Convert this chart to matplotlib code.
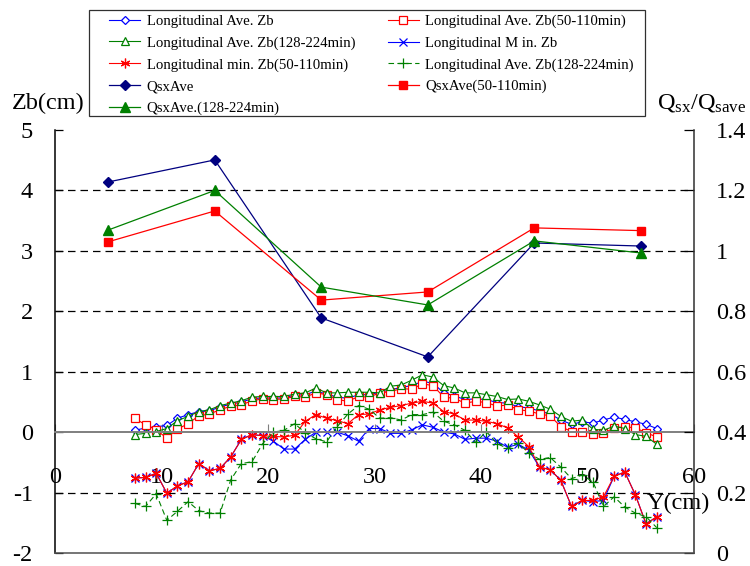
import numpy as np
import matplotlib
matplotlib.use("Agg")
import matplotlib.pyplot as plt
from matplotlib.patches import Rectangle
from matplotlib.ticker import FuncFormatter

plt.rcParams['font.family'] = ['Liberation Serif', 'DejaVu Serif']
plt.rcParams['mathtext.fontset'] = 'custom'
plt.rcParams['mathtext.rm'] = 'Liberation Serif'
plt.rcParams['mathtext.it'] = 'Liberation Serif:italic'
plt.rcParams['axes.unicode_minus'] = False

# Transverse positions Y (cm) of the bed-level profiles
y_pos = [7.5, 8.5, 9.5, 10.5, 11.5, 12.5, 13.5, 14.5, 15.5, 16.5,
         17.5, 18.5, 19.5, 20.5, 21.5, 22.5, 23.5, 24.5, 25.5, 26.5,
         27.5, 28.5, 29.5, 30.5, 31.5, 32.5, 33.5, 34.5, 35.5, 36.5,
         37.5, 38.5, 39.5, 40.5, 41.5, 42.5, 43.5, 44.5, 45.5, 46.5,
         47.5, 48.5, 49.5, 50.5, 51.5, 52.5, 53.5, 54.5, 55.5, 56.5]

ave_zb = [0.03, 0.07, 0.09, 0.11, 0.23, 0.29, 0.34, 0.35, 0.42, 0.46,
          0.50, 0.55, 0.57, 0.56, 0.57, 0.61, 0.62, 0.68, 0.63, 0.58,
          0.56, 0.62, 0.62, 0.66, 0.70, 0.74, 0.77, 0.84, 0.81, 0.65,
          0.60, 0.54, 0.55, 0.54, 0.49, 0.48, 0.42, 0.40, 0.35, 0.30,
          0.20, 0.13, 0.17, 0.15, 0.20, 0.25, 0.21, 0.17, 0.13, 0.06]

ave_zb_50_110 = [0.23, 0.12, 0.04, -0.10, 0.05, 0.14, 0.27, 0.30, 0.37, 0.43,
                 0.45, 0.52, 0.55, 0.54, 0.55, 0.59, 0.58, 0.65, 0.62, 0.54,
                 0.51, 0.59, 0.58, 0.65, 0.67, 0.72, 0.71, 0.80, 0.77, 0.58,
                 0.56, 0.48, 0.51, 0.49, 0.43, 0.45, 0.37, 0.35, 0.30, 0.27,
                 0.09, 0.01, 0.01, -0.03, -0.02, 0.07, 0.09, 0.07, -0.01, -0.08]

ave_zb_128_224 = [-0.04, -0.02, 0.01, 0.06, 0.19, 0.26, 0.34, 0.37, 0.44, 0.48,
                  0.52, 0.58, 0.59, 0.59, 0.59, 0.63, 0.65, 0.73, 0.65, 0.65,
                  0.66, 0.66, 0.66, 0.65, 0.76, 0.78, 0.86, 0.95, 0.91, 0.77,
                  0.73, 0.65, 0.65, 0.62, 0.59, 0.54, 0.55, 0.51, 0.45, 0.38,
                  0.26, 0.18, 0.20, 0.05, 0.03, 0.10, 0.06, -0.04, -0.07, -0.20]

min_zb = [-0.76, -0.75, -0.68, -1.01, -0.89, -0.82, -0.52, -0.64, -0.60, -0.41,
          -0.12, -0.04, -0.06, -0.15, -0.28, -0.28, -0.12, 0.00, 0.00, 0.00,
          -0.06, -0.15, 0.06, 0.06, -0.02, -0.02, 0.04, 0.12, 0.08, 0.00,
          -0.03, -0.12, -0.10, -0.10, -0.15, -0.25, -0.20, -0.30, -0.58, -0.62,
          -0.80, -1.23, -1.13, -1.15, -1.13, -0.73, -0.66, -1.04, -1.52, -1.40]

min_zb_50_110 = [-0.76, -0.75, -0.68, -1.01, -0.89, -0.82, -0.52, -0.64, -0.60, -0.41,
                 -0.12, -0.04, -0.06, -0.07, -0.08, -0.05, 0.18, 0.29, 0.23, 0.19,
                 0.14, 0.29, 0.30, 0.37, 0.41, 0.44, 0.48, 0.51, 0.48, 0.34,
                 0.30, 0.20, 0.20, 0.18, 0.14, 0.07, -0.08, -0.24, -0.58, -0.62,
                 -0.80, -1.23, -1.13, -1.13, -1.07, -0.73, -0.66, -1.04, -1.52, -1.40]

min_zb_128_224 = [-1.18, -1.23, -1.02, -1.46, -1.31, -1.15, -1.30, -1.34, -1.34, -0.79,
                  -0.52, -0.49, -0.19, 0.00, 0.03, 0.14, -0.01, -0.11, -0.16, 0.09,
                  0.30, 0.44, 0.38, 0.23, 0.24, 0.20, 0.29, 0.29, 0.33, 0.18,
                  0.12, 0.03, -0.17, 0.01, -0.19, -0.27, -0.18, -0.35, -0.45, -0.42,
                  -0.58, -0.77, -0.71, -0.82, -1.23, -1.07, -1.24, -1.34, -1.40, -1.58]

# Sediment transport ratio Qsx/Qsave at six sections
q_pos = [5, 15, 25, 35, 45, 55]
qsx_ave = [1.228, 1.301, 0.778, 0.649, 1.026, 1.016]
qsx_50_110 = [1.030, 1.132, 0.837, 0.864, 1.076, 1.067]
qsx_128_224 = [1.069, 1.200, 0.880, 0.821, 1.033, 0.993]

x_ticks = [0, 10, 20, 30, 40, 50, 60]
zb_ticks = [-2, -1, 0, 1, 2, 3, 4, 5]
q_ticks = [0, 0.2, 0.4, 0.6, 0.8, 1.0, 1.2, 1.4]
grid_levels = [-1, 1, 2, 3, 4]

BLUE, RED, GREEN, NAVY = '#0000FF', '#FF0000', '#008000', '#000080'
W, H = 750, 566

fig = plt.figure(figsize=(W / 100, H / 100), dpi=100)
ax = fig.add_axes([55 / W, 13 / H, 639 / W, 423 / H])
ax.patch.set_alpha(0)

for v in grid_levels:
    ax.axhline(v, color='black', lw=0.9, ls=(0, (6, 4)), zorder=0.5)

lw = 0.8
h1, = ax.plot(y_pos, ave_zb, color=BLUE, lw=lw, marker='D', ms=4.3,
              mfc='white', mec=BLUE, mew=0.9, label='Longitudinal Ave. Zb')
h2, = ax.plot(y_pos, ave_zb_50_110, color=RED, lw=lw, marker='s', ms=5.3,
              mfc='white', mec=RED, mew=0.9, label='Longitudinal Ave. Zb(50-110min)')
h3, = ax.plot(y_pos, ave_zb_128_224, color=GREEN, lw=lw, marker='^', ms=6.3,
              mfc='white', mec=GREEN, mew=0.9, label='Longitudinal Ave. Zb(128-224min)')
h4, = ax.plot(y_pos, min_zb, color=BLUE, lw=lw, marker='x', ms=5.5,
              mec=BLUE, mew=0.9, label='Longitudinal M in. Zb')
h5, = ax.plot(y_pos, min_zb_50_110, color=RED, lw=lw, marker=(6, 2, 0), ms=7,
              mec=RED, mew=0.9, label='Longitudinal min. Zb(50-110min)')
h6, = ax.plot(y_pos, min_zb_128_224, color=GREEN, lw=lw, ls=(0, (5, 3)), marker='+',
              ms=6.5, mec=GREEN, mew=0.9, label='Longitudinal Ave. Zb(128-224min)')

ax.set_xlim(0, 60)
ax.set_ylim(-2, 5)
ax.set_xticks(x_ticks)
ax.set_yticks(zb_ticks)
ax.spines['top'].set_visible(False)
ax.spines['right'].set_visible(False)
ax.spines['left'].set_color('black')
ax.spines['left'].set_linewidth(1.1)
ax.spines['bottom'].set_position(('data', 0))
ax.spines['bottom'].set_color('#7f7f7f')
ax.spines['bottom'].set_linewidth(1.4)
ax.tick_params(axis='x', direction='in', length=6, width=0.8, color='#7f7f7f',
               pad=25, labelsize=17.5)
ax.tick_params(axis='y', direction='in', length=6, width=0.9, pad=16, labelsize=17.5)

ax2 = ax.twinx()
ax2.set_ylim(0, 1.4)
ax2.set_yticks(q_ticks)
ax2.yaxis.set_major_formatter(FuncFormatter(lambda v, p: f'{v:g}'))
ax2.spines['top'].set_visible(False)
ax2.spines['left'].set_visible(False)
ax2.spines['right'].set_color('#303030')
ax2.spines['right'].set_linewidth(1.1)
ax2.spines['bottom'].set_color('#505050')
ax2.spines['bottom'].set_linewidth(1.1)
ax2.tick_params(axis='y', direction='in', length=7, width=0.9, pad=16, labelsize=17.5)

h7, = ax2.plot(q_pos, qsx_ave, color=NAVY, lw=0.9, marker='D', ms=4.6,
               mfc=NAVY, mec=NAVY, label='QsxAve')
h8, = ax2.plot(q_pos, qsx_50_110, color=RED, lw=0.9, marker='s', ms=6,
               mfc=RED, mec=RED, label='QsxAve(50-110min)')
h9, = ax2.plot(q_pos, qsx_128_224, color=GREEN, lw=0.9, marker='^', ms=7,
               mfc=GREEN, mec=GREEN, label='QsxAve.(128-224min)')

# axis captions
fig.text(12 / W, 1 - 103 / H, 'Zb(cm)', fontsize=17.5, ha='left', va='center')
fig.text(657 / W, 1 - 103 / H, r'Q$_{\mathrm{sx}}$/Q$_{\mathrm{save}}$',
         fontsize=17.5, ha='left', va='center')
fig.text(647 / W, 1 - 503 / H, 'Y(cm)', fontsize=17.5, ha='left', va='center')

# legend, filled column by column
handles = [h1, h3, h5, h7, h9, h2, h4, h6, h8]
fig.legend(handles, [h.get_label() for h in handles], ncol=2, loc='upper left',
           bbox_to_anchor=(97 / W, 1 - 3 / H), frameon=False, fontsize=10.6,
           handlelength=2.15, handletextpad=0.42, columnspacing=2.2,
           borderpad=0.3, labelspacing=0.56, numpoints=1)
fig.patches.append(Rectangle((89 / W, 1 - 116 / H), (645 - 89) / W, (116 - 10) / H,
                             transform=fig.transFigure, fill=False,
                             edgecolor='#303030', lw=0.9))

fig.savefig('out.png', dpi=100)
